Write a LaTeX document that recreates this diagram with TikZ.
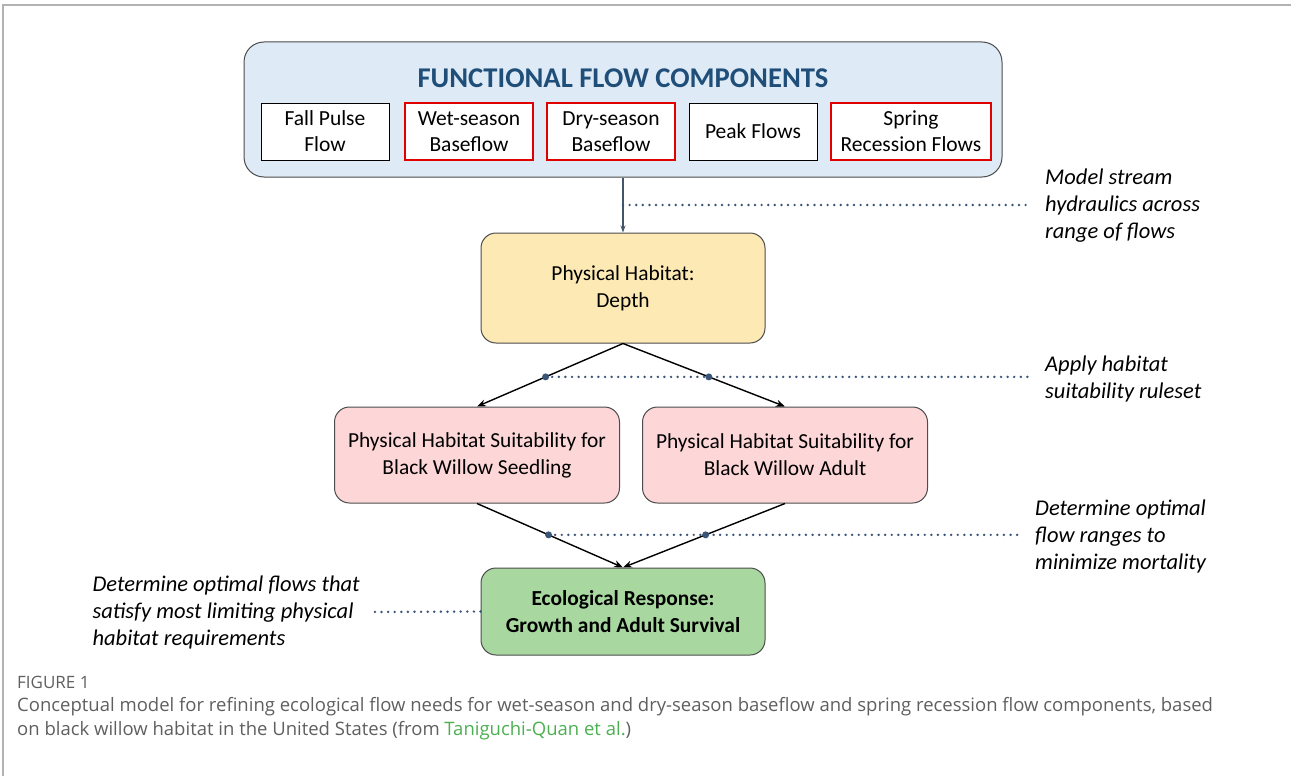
\documentclass[tikz,border=0pt]{standalone}
\usepackage{fontspec}
\setmainfont{Carlito}
\newfontfamily\captionfont{Open Sans}
\usetikzlibrary{arrows.meta}

\definecolor{panelblue}{HTML}{DEEBF7}
\definecolor{titleblue}{HTML}{1F4E79}
\definecolor{compred}{HTML}{E00000}
\definecolor{depthyellow}{HTML}{FDE9B4}
\definecolor{suitpink}{HTML}{FDD6D8}
\definecolor{ecogreen}{HTML}{A8D8A0}
\definecolor{slateline}{HTML}{44546A}
\definecolor{guidedot}{HTML}{3B5577}
\definecolor{capgray}{HTML}{5F5F5F}
\definecolor{linkgreen}{HTML}{4CAF50}

\tikzset{
  comp/.style={draw=black, line width=1pt, minimum width=128pt, minimum height=57pt,
    inner sep=0pt, align=center, font=\fontsize{21.5}{26}\selectfont},
  keycomp/.style={comp, draw=compred, line width=2.5pt},
  stage/.style={draw=black!70, line width=1pt, rounded corners=15pt, inner sep=0pt,
    align=center, font=\fontsize{21.4}{27}\selectfont},
  note/.style={align=left, inner sep=0pt, font=\fontsize{22.5}{27}\selectfont\itshape},
  fork/.style={line width=1.4pt, -{Stealth[length=9pt,width=7pt]}},
  guide/.style={guidedot, line width=2.7pt, line cap=round, dash pattern=on 0pt off 6.6pt},
  knot/.style={circle, fill=guidedot, inner sep=0pt, minimum size=7pt}
}

\begin{document}
\begin{tikzpicture}[x=1pt,y=-1pt]

  \useasboundingbox (0,0) rectangle (1291,776);
  % page frame
  \draw [black!30, line width=1.2pt] (3,776) -- (3,5) -- (1291,5);

  % functional flow components
  \node [draw=black!70, line width=1pt, fill=panelblue, rounded corners=20pt,
    minimum width=758pt, minimum height=135pt] (ffc) at (623,109.5) {};
  \node [font=\fontsize{28.6}{30}\selectfont\bfseries, text=titleblue] (title) at (623,78)
    {FUNCTIONAL FLOW COMPONENTS};
  \node [comp, fill=white] (fall) at (325,131.5) {Fall Pulse\\Flow};
  \node [keycomp, fill=white] (wet) at (469,131.5) {Wet-season\\Baseflow};
  \node [keycomp, fill=white] (dry) at (611,131.5) {Dry-season\\Baseflow};
  \node [comp, fill=white] (peak) at (753,131.5) {Peak Flows};
  \node [keycomp, fill=white, minimum width=160pt] (spring) at (911,131.5) {Spring\\Recession Flows};

  % stages
  \node [stage, fill=depthyellow, minimum width=284pt, minimum height=110pt] (depth) at (623,288)
    {Physical Habitat:\\Depth};
  \node [stage, fill=suitpink, minimum width=285pt, minimum height=96pt] (seed) at (477,455)
    {Physical Habitat Suitability for\\Black Willow Seedling};
  \node [stage, fill=suitpink, minimum width=285pt, minimum height=96pt] (adult) at (785,455)
    {Physical Habitat Suitability for\\Black Willow Adult};
  \node [stage, fill=ecogreen, minimum width=284pt, minimum height=87pt,
    font=\fontsize{21.4}{27}\selectfont\bfseries] (eco) at (623,611.5)
    {Ecological Response:\\Growth and Adult Survival};

  % connectors
  \draw [slateline, line width=1.2pt, -{Stealth[length=7pt,width=5pt]}] (ffc.south) -- (depth.north)
    coordinate [pos=0.5] (m1);
  \draw [fork] (depth.south) -- (seed.north) coordinate [pos=0.53] (a1);
  \draw [fork] (depth.south) -- (adult.north) coordinate [pos=0.53] (a2);
  \draw [fork] (seed.south) -- (eco.north) coordinate [pos=0.49] (b1);
  \draw [fork] (adult.south) -- (eco.north) coordinate [pos=0.49] (b2);

  % annotations
  \node [note, anchor=west] (hydro) at (1045,205.5) {Model stream\\hydraulics across\\range of flows};
  \node [note, anchor=west] (rules) at (1045,378.5) {Apply habitat\\suitability ruleset};
  \node [note, anchor=west] (mort) at (1035,536) {Determine optimal\\flow ranges to\\minimize mortality};
  \node [note, anchor=east] (limit) at (360,612)
    {Determine optimal flows that\\satisfy most limiting physical\\habitat requirements};

  \draw [guide] (m1) -- ([xshift=-14pt]m1 -| hydro.west);
  \draw [guide] (a1) -- ([xshift=-14pt]a1 -| rules.west);
  \draw [guide] (b1) -- ([xshift=-14pt]b1 -| mort.west);
  \draw [guide] (eco.west) -- ([xshift=12pt]limit.east);
  \foreach \k in {a1,a2,b1,b2} {\node [knot] at (\k) {};}

  % caption
  \node [anchor=west, inner sep=0pt, text=capgray, font=\captionfont\fontsize{17}{18}\selectfont] (fig)
    at (17,682) {FIGURE 1};
  \node [anchor=north west, inner sep=0pt, align=left, text=capgray,
    font=\captionfont\fontsize{18.5}{24}\selectfont] (cap) at (17,697)
    {Conceptual model for refining ecological flow needs for wet-season and dry-season baseflow and spring recession flow components, based\\
     on black willow habitat in the United States (from \textcolor{linkgreen}{Taniguchi-Quan et al.})};

\end{tikzpicture}
\end{document}
